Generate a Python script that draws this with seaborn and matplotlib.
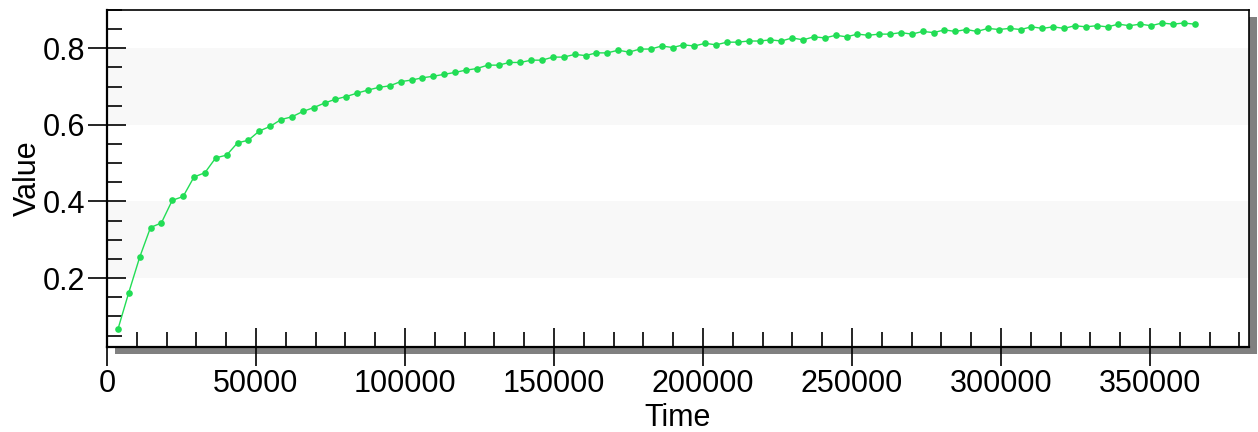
import pandas as pd
import matplotlib.pyplot as plt
import seaborn as sns
from matplotlib.patches import Rectangle
from matplotlib.ticker import MultipleLocator

time = [
    3650, 7300, 10950, 14600, 18250, 21900, 25550, 29200, 32850, 36500,
    40150, 43800, 47450, 51100, 54750, 58400, 62050, 65700, 69350, 73000,
    76650, 80300, 83950, 87600, 91250, 94900, 98550, 102200, 105850, 109500,
    113150, 116800, 120450, 124100, 127750, 131400, 135050, 138700, 142350, 146000,
    149650, 153300, 156950, 160600, 164250, 167900, 171550, 175200, 178850, 182500,
    186150, 189800, 193450, 197100, 200750, 204400, 208050, 211700, 215350, 219000,
    222650, 226300, 229950, 233600, 237250, 240900, 244550, 248200, 251850, 255500,
    259150, 262800, 266450, 270100, 273750, 277400, 281050, 284700, 288350, 292000,
    295650, 299300, 302950, 306600, 310250, 313900, 317550, 321200, 324850, 328500,
    332150, 335800, 339450, 343100, 346750, 350400, 354050, 357700, 361350, 365000,
]
value = [
    0.066, 0.162, 0.254, 0.332, 0.344, 0.403, 0.413, 0.464, 0.475, 0.514,
    0.521, 0.553, 0.560, 0.584, 0.596, 0.614, 0.621, 0.635, 0.645, 0.657,
    0.667, 0.674, 0.683, 0.691, 0.698, 0.702, 0.713, 0.717, 0.723, 0.727,
    0.732, 0.737, 0.743, 0.747, 0.756, 0.756, 0.763, 0.763, 0.769, 0.769,
    0.777, 0.777, 0.784, 0.781, 0.788, 0.788, 0.795, 0.790, 0.798, 0.798,
    0.806, 0.802, 0.809, 0.806, 0.813, 0.809, 0.816, 0.816, 0.819, 0.819,
    0.822, 0.819, 0.827, 0.822, 0.830, 0.827, 0.834, 0.830, 0.837, 0.834,
    0.837, 0.837, 0.841, 0.837, 0.844, 0.841, 0.848, 0.844, 0.849, 0.844,
    0.852, 0.849, 0.852, 0.849, 0.856, 0.852, 0.856, 0.852, 0.859, 0.856,
    0.859, 0.856, 0.863, 0.859, 0.863, 0.859, 0.866, 0.863, 0.866, 0.863,
]
y_ticks = [0.2, 0.4, 0.6, 0.8]
x_ticks = [0, 50000, 100000, 150000, 200000, 250000, 300000, 350000]

df = pd.DataFrame({"Time": time, "Value": value})

sns.set_style("white")
plt.rcParams["font.family"] = ["Liberation Sans", "DejaVu Sans"]

W, H = 1258, 432
fig = plt.figure(figsize=(W / 100, H / 100), dpi=100)
x0, x1, y0, y1 = 107, 1249, 10, 347
ax = fig.add_axes([x0 / W, 1 - y1 / H, (x1 - x0) / W, (y1 - y0) / H])

# drop shadow behind the plot frame
fig.patches.append(Rectangle(((x0 + 8) / W, 1 - (y1 + 7) / H), (x1 - x0) / W, (y1 - y0) / H,
                             transform=fig.transFigure, facecolor="#808080",
                             edgecolor="none", zorder=-1))

# alternating light bands
for lo, hi in [(0.2, 0.4), (0.6, 0.8)]:
    ax.axhspan(lo, hi, color="#f8f8f8", zorder=0, lw=0)

sns.lineplot(data=df, x="Time", y="Value", ax=ax, color="#22dd55",
             marker="o", markersize=4.8, markeredgewidth=0, linewidth=1.0, zorder=3)

ax.set_xlim(0, 383250)
ax.set_ylim(0.02, 0.9)
ax.set_xticks(x_ticks)
ax.set_xticklabels([str(t) for t in x_ticks])
ax.set_yticks(y_ticks)
ax.set_yticklabels([f"{t:.1f}" for t in y_ticks])
ax.xaxis.set_minor_locator(MultipleLocator(10000))
ax.yaxis.set_minor_locator(MultipleLocator(0.05))

ax.tick_params(which="both", bottom=True, left=True, top=False, right=False)
ax.tick_params(which="major", direction="inout", length=27, width=1.2, colors="black",
               labelsize=22, pad=2)
ax.tick_params(which="minor", direction="in", length=11, width=1.2, colors="black")

for side in ["left", "bottom"]:
    ax.spines[side].set_linewidth(1.6)
for side in ["top", "right"]:
    ax.spines[side].set_linewidth(1.2)
for s in ax.spines.values():
    s.set_color("black")
    s.set_visible(True)

ax.set_xlabel("Time", fontsize=22, labelpad=3, color="black")
ax.set_ylabel("Value", fontsize=22, labelpad=0, color="black")

fig.savefig("out.png", dpi=100)
plt.close(fig)
